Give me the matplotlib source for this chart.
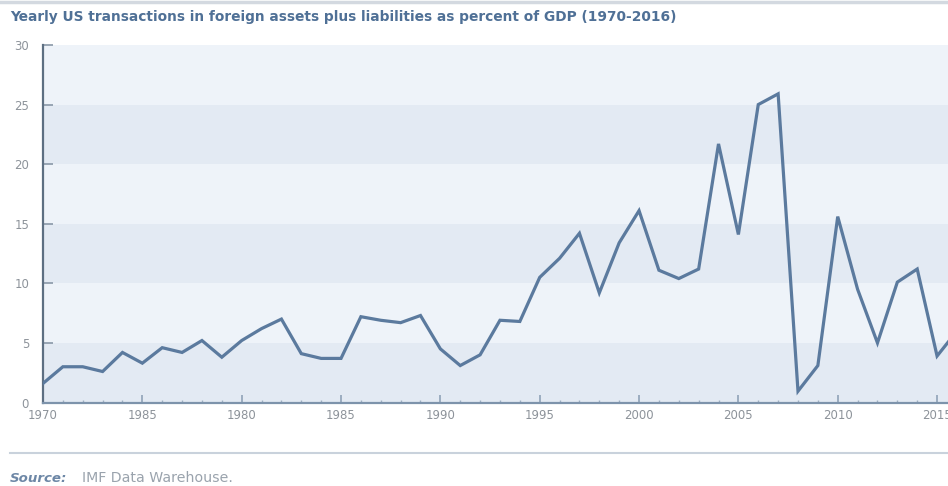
import matplotlib
matplotlib.use('Agg')
import matplotlib.pyplot as plt
from matplotlib.ticker import MultipleLocator

# data
years = list(range(1970, 2017))
values = [1.6, 3.0, 3.0, 2.6, 4.2, 3.3, 4.6, 4.2, 5.2, 3.8,
          5.2, 6.2, 7.0, 4.1, 3.7, 3.7, 7.2, 6.9, 6.7, 7.3,
          4.5, 3.1, 4.0, 6.9, 6.8, 10.5, 12.1, 14.2, 9.2, 13.4,
          16.1, 11.1, 10.4, 11.2, 21.7, 14.1, 25.0, 25.9, 0.95, 3.1,
          15.6, 9.5, 5.0, 10.1, 11.2, 3.9, 6.0]
xtick_years = [1970, 1975, 1980, 1985, 1990, 1995, 2000, 2005, 2010, 2015]
xtick_labels = ['1970', '1985', '1980', '1985', '1990', '1995', '2000', '2005', '2010', '2015']
ytick_vals = [0, 5, 10, 15, 20, 25, 30]

title = 'Yearly US transactions in foreign assets plus liabilities as percent of GDP (1970-2016)'

fig = plt.figure(figsize=(9.48, 4.86), dpi=100)
ax = fig.add_axes([43 / 948, 1 - 402.5 / 486, 1 - 43 / 948, 357.5 / 486])

# alternating bands
band_light = '#eef3f9'
band_dark = '#e3eaf3'
for i, lo in enumerate(ytick_vals[:-1]):
    ax.axhspan(lo, lo + 5, color=band_dark if i % 2 == 0 else band_light, lw=0, zorder=0)

ax.plot(years, values, color='#5b7a9e', lw=2.3, solid_joinstyle='miter', zorder=3, clip_on=True)

ax.set_xlim(1970, 2015.55)
ax.set_ylim(0, 30)

for s in ['top', 'right']:
    ax.spines[s].set_visible(False)
ax.spines['left'].set_color('#5d6f82')
ax.spines['left'].set_linewidth(1.6)
ax.spines['bottom'].set_color('#7d93ab')
ax.spines['bottom'].set_linewidth(1.6)

ax.set_yticks(ytick_vals)
ax.set_yticklabels([str(v) for v in ytick_vals])
ax.set_xticks(xtick_years)
ax.set_xticklabels(xtick_labels)
ax.xaxis.set_minor_locator(MultipleLocator(1))

ax.tick_params(axis='y', direction='in', length=7, width=1.2, color='#8a98a8',
               labelsize=8.5, labelcolor='#8d939a', pad=10)
ax.tick_params(axis='x', which='major', direction='in', length=6, width=1.2, color='#8fa3b8',
               labelsize=8.5, labelcolor='#8d939a', pad=5)
ax.tick_params(axis='x', which='minor', direction='in', length=2.5, width=1, color='#9fb1c3')

# header rule and title
fig.add_artist(plt.Line2D([0, 1], [1 - 2 / 486, 1 - 2 / 486], color='#d3d9e0', lw=2.5))
fig.text(10 / 948, 1 - 17 / 486, title, fontsize=9.9, fontweight='bold', color='#4f7096',
         va='center', ha='left')

# footer rule and source
fig.add_artist(plt.Line2D([10 / 948, 1], [1 - 453 / 486, 1 - 453 / 486], color='#c9d2dc', lw=1.5))
fig.text(10 / 948, 1 - 478 / 486, 'Source:', fontsize=9.6, fontweight='bold', fontstyle='italic',
         color='#6d87a6', va='center', ha='left')
fig.text(82 / 948, 1 - 478 / 486, 'IMF Data Warehouse.', fontsize=10.2, color='#9aa3ad',
         va='center', ha='left')

fig.savefig('out.png', dpi=100)
